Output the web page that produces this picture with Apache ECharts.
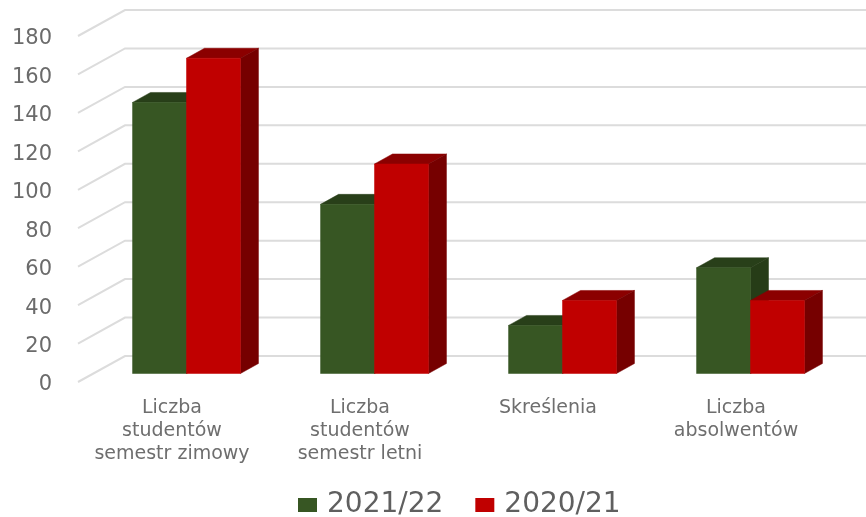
<!DOCTYPE html>
<html><head><meta charset="utf-8">
<style>html,body{margin:0;padding:0;background:#fff}#c{width:866px;height:517px}</style>
<script src="https://cdn.jsdelivr.net/npm/echarts@6/dist/echarts.min.js"></script>
</head><body><div id="c"></div>
<script>
const categories = ['Liczba\nstudentów\nsemestr zimowy', 'Liczba\nstudentów\nsemestr letni', 'Skreślenia', 'Liczba\nabsolwentów'];
const values2122 = [141, 88, 25, 55];
const values2021 = [164, 109, 38, 38];
const yTicks = [0, 20, 40, 60, 80, 100, 120, 140, 160, 180];

const chart = echarts.init(document.getElementById('c'), null, {renderer: 'canvas'});

function polygon(points, fill) {
  return {type: 'polygon', shape: {points}, style: {fill, stroke: fill, lineWidth: 0.5}};
}
function barRenderer(side, front, topC, sideC) {
  return function (params, api) {
    const cat = api.value(0), val = api.value(1);
    const base = api.coord([cat, 0]), top = api.coord([cat, val]);
    const band = api.size([1, 0])[0];
    const w = band * 0.287;
    const planeDx = 14.5, planeDy = -8.5, dx = 18, dy = -10;
    const x0 = base[0] + planeDx + (side === 0 ? -w : 0);
    const x1 = x0 + w;
    const yb = base[1] + planeDy, yt = top[1] + planeDy;
    return {type: 'group', children: [
      polygon([[x0, yt], [x0 + dx, yt + dy], [x1 + dx, yt + dy], [x1, yt]], topC),
      polygon([[x1, yt], [x1 + dx, yt + dy], [x1 + dx, yb + dy], [x1, yb]], sideC),
      polygon([[x0, yt], [x1, yt], [x1, yb], [x0, yb]], front)
    ]};
  };
}
function wallRenderer(params, api) {
  const v = api.value(0);
  const p = api.coord([0, v]);
  const left = 78, backX = 125, rise = 26;
  return {type: 'polyline', silent: true,
    shape: {points: [[left, p[1]], [backX, p[1] - rise], [866, p[1] - rise]]},
    style: {fill: 'none', stroke: '#dcdcdc', lineWidth: 2}};
}

chart.setOption({
  animation: false,
  backgroundColor: '#fff',
  textStyle: {fontFamily: 'DejaVu Sans'},
  grid: {left: 78, width: 752, top: 36, height: 346, containLabel: false},
  xAxis: {
    type: 'category', data: categories,
    axisLine: {show: false}, axisTick: {show: false}, splitLine: {show: false},
    axisLabel: {interval: 0, margin: 15, color: '#6e6e6e', fontFamily: 'DejaVu Sans', fontSize: 19, lineHeight: 23}
  },
  yAxis: {
    type: 'value', min: 0, max: 180, interval: 20,
    axisLine: {show: false}, axisTick: {show: false}, splitLine: {show: false},
    axisLabel: {margin: 26, color: '#6b6b6b', fontFamily: 'DejaVu Sans', fontSize: 21, verticalAlign: 'top', lineHeight: 6}
  },
  legend: {
    left: 293, top: 486, itemWidth: 19, itemHeight: 14, itemGap: 32, icon: 'rect',
    data: ['2021/22', '2020/21'],
    textStyle: {color: '#5f5f5f', fontFamily: 'DejaVu Sans', fontSize: 28, padding: [0, 0, 0, 5]}
  },
  series: [
    {type: 'custom', name: 'walls', coordinateSystem: 'cartesian2d', clip: false, silent: true, z: 1,
     data: yTicks.map(v => [v]), encode: {y: 0}, renderItem: wallRenderer},
    {type: 'custom', name: '2021/22', clip: false, z: 2, itemStyle: {color: '#375623'},
     data: values2122.map((v, i) => [i, v]), encode: {x: 0, y: 1},
     renderItem: barRenderer(0, '#375623', '#283f19', '#263c17')},
    {type: 'custom', name: '2020/21', clip: false, z: 3, itemStyle: {color: '#c00000'},
     data: values2021.map((v, i) => [i, v]), encode: {x: 0, y: 1},
     renderItem: barRenderer(1, '#c00000', '#8b0000', '#760000')}
  ]
});
</script></body></html>
